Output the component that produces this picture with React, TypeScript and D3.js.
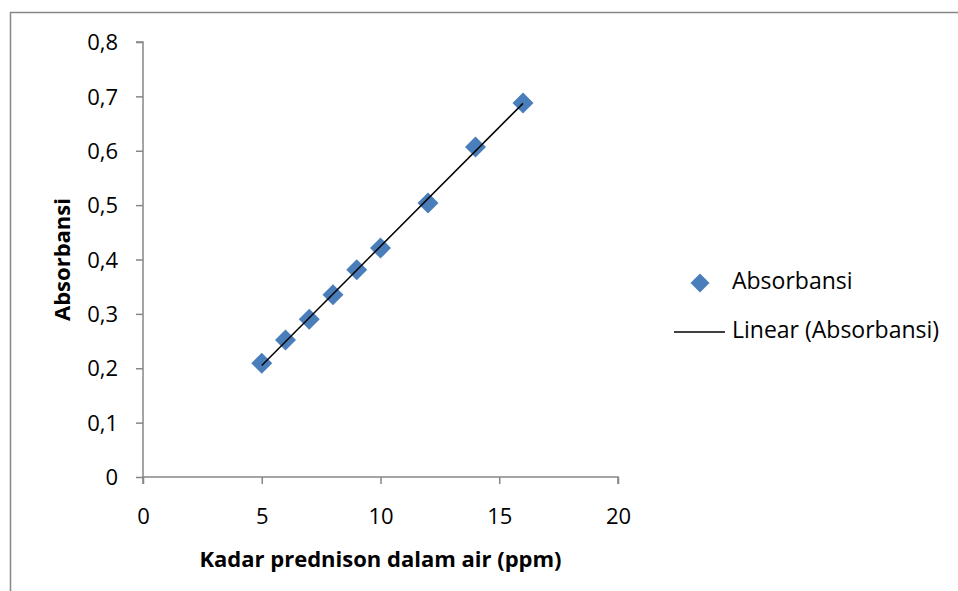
import React, { useEffect, useRef } from "react";
import * as d3 from "d3";

// Kadar prednison (ppm) vs absorbansi
const kadar = [5, 6, 7, 8, 9, 10, 12, 14, 16];
const absorbansi = [0.209, 0.252, 0.29, 0.335, 0.381, 0.421, 0.504, 0.607, 0.688];
const xTicks = [0, 5, 10, 15, 20];
const yTicks = [0, 0.1, 0.2, 0.3, 0.4, 0.5, 0.6, 0.7, 0.8];

const App = () => {
  const ref = useRef<SVGSVGElement>(null);

  useEffect(() => {
    document.body.style.margin = "0";
    const width = 958;
    const height = 591;
    const font = "'Open Sans', sans-serif";
    const axisColor = "#868686";

    const svg = d3.select(ref.current);
    svg.selectAll("*").remove();
    svg.attr("width", width).attr("height", height);

    svg
      .append("rect")
      .attr("width", width)
      .attr("height", height)
      .attr("fill", "#fff");

    // chart frame (only top and left visible)
    svg
      .append("path")
      .attr("d", `M10.5,${height + 5}V12.5H${width + 5}`)
      .attr("fill", "none")
      .attr("stroke", axisColor)
      .attr("stroke-width", 1.5);

    const x = d3.scaleLinear().domain([0, 20]).range([143, 618]);
    const y = d3.scaleLinear().domain([0, 0.8]).range([477, 42]);
    const fmt = (d: number) => d3.format(".1~f")(d).replace(".", ",");

    // Y axis
    const yAxis = svg
      .append("g")
      .attr("transform", `translate(${x(0)},0)`)
      .call(d3.axisLeft(y).tickValues(yTicks).tickSize(7).tickFormat((d) => fmt(+d)));
    yAxis.select(".domain").attr("stroke", axisColor).attr("stroke-width", 1.5).attr("d", `M-7,${y(0.8)}H0V${y(0)}`);
    yAxis.selectAll(".tick line").attr("stroke", axisColor).attr("stroke-width", 1.5);
    yAxis
      .selectAll(".tick text")
      .attr("x", -25)
      .attr("dy", "0.35em")
      .attr("font-family", font)
      .attr("font-size", 22)
      .attr("fill", "#000");

    // X axis
    const xAxis = svg
      .append("g")
      .attr("transform", `translate(0,${y(0)})`)
      .call(d3.axisBottom(x).tickValues(xTicks).tickSize(7).tickFormat((d) => String(d)));
    xAxis.select(".domain").attr("stroke", axisColor).attr("stroke-width", 1.5).attr("d", `M${x(0)},7V0H${x(20)}V7`);
    xAxis.selectAll(".tick line").attr("stroke", axisColor).attr("stroke-width", 1.5);
    xAxis
      .selectAll(".tick text")
      .attr("y", 41)
      .attr("dy", "0")
      .attr("dominant-baseline", "middle")
      .attr("font-family", font)
      .attr("font-size", 22)
      .attr("fill", "#000");

    // Axis titles
    svg
      .append("text")
      .attr("x", (x(0) + x(20)) / 2)
      .attr("y", 567)
      .attr("text-anchor", "middle")
      .attr("font-family", font)
      .attr("font-weight", "bold")
      .attr("font-size", 22)
      .text("Kadar prednison dalam air (ppm)");

    svg
      .append("text")
      .attr("transform", `translate(70,${(y(0) + y(0.8)) / 2}) rotate(-90)`)
      .attr("text-anchor", "middle")
      .attr("font-family", font)
      .attr("font-weight", "bold")
      .attr("font-size", 22)
      .text("Absorbansi");

    // Linear trendline (least squares)
    const mx = d3.mean(kadar) as number;
    const my = d3.mean(absorbansi) as number;
    const slope =
      d3.sum(kadar, (d, i) => (d - mx) * (absorbansi[i] - my)) /
      d3.sum(kadar, (d) => (d - mx) ** 2);
    const intercept = my - slope * mx;
    const xExt = d3.extent(kadar) as [number, number];

    // Points
    const diamond = "M0,-10.5L10.5,0L0,10.5L-10.5,0Z";
    svg
      .append("g")
      .selectAll("path")
      .data(kadar)
      .enter()
      .append("path")
      .attr("d", diamond)
      .attr("transform", (d, i) => `translate(${x(d)},${y(absorbansi[i])})`)
      .attr("fill", "#4a7ebb");

    // trendline over points
    svg
      .append("line")
      .attr("x1", x(xExt[0]))
      .attr("y1", y(intercept + slope * xExt[0]))
      .attr("x2", x(xExt[1]))
      .attr("y2", y(intercept + slope * xExt[1]))
      .attr("stroke", "#000")
      .attr("stroke-width", 1.5);

    // Legend
    const legend = svg.append("g").attr("font-family", font).attr("font-size", 23);
    legend
      .append("path")
      .attr("d", "M0,-9.5L9.5,0L0,9.5L-9.5,0Z")
      .attr("transform", "translate(700,283)")
      .attr("fill", "#4a7ebb");
    legend
      .append("text")
      .attr("x", 732)
      .attr("y", 283)
      .attr("dominant-baseline", "middle")
      .text("Absorbansi");
    legend
      .append("line")
      .attr("x1", 674)
      .attr("x2", 725)
      .attr("y1", 332)
      .attr("y2", 332)
      .attr("stroke", "#000")
      .attr("stroke-width", 1.5);
    legend
      .append("text")
      .attr("x", 732)
      .attr("y", 332)
      .attr("dominant-baseline", "middle")
      .text("Linear (Absorbansi)");
  }, []);

  return <svg ref={ref} style={{ display: "block" }} />;
};

export default App;
